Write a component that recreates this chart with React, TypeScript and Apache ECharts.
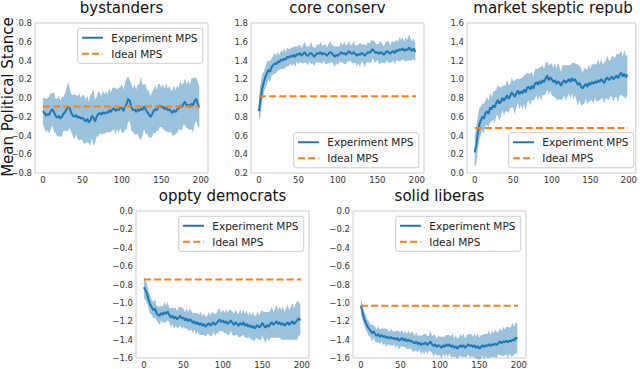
import React, { useEffect, useRef } from "react";
import * as echarts from "echarts";

// x positions of the sampled time steps (every 2nd step 0..198)
const STEPS = Array.from({ length: 100 }, (_, i) => i * 2);
const X_TICKS = [0, 50, 100, 150, 200];

const TITLES = ["bystanders", "core conserv", "market skeptic repub", "oppty democrats", "solid liberas"];
const LEGEND_LABELS = ["Experiment MPS", "Ideal MPS"];
const Y_LABEL = "Mean Political Stance";

const BYSTANDERS_MEAN = [
  -0.14, -0.16, -0.19, -0.17, -0.18, -0.14, -0.12, -0.15, -0.19, -0.21,
  -0.19, -0.22, -0.2, -0.17, -0.15, -0.12, -0.09, -0.11, -0.16, -0.19,
  -0.2, -0.18, -0.21, -0.2, -0.22, -0.21, -0.23, -0.25, -0.22, -0.26,
  -0.24, -0.19, -0.21, -0.25, -0.2, -0.17, -0.16, -0.18, -0.15, -0.17,
  -0.15, -0.16, -0.13, -0.15, -0.12, -0.11, -0.14, -0.12, -0.13, -0.1,
  -0.11, -0.14, -0.09, -0.06, -0.01, -0.03, -0.1, -0.13, -0.12, -0.15,
  -0.12, -0.14, -0.11, -0.13, -0.09, -0.12, -0.15, -0.17, -0.2, -0.18,
  -0.14, -0.12, -0.13, -0.1, -0.08, -0.1, -0.09, -0.12, -0.1, -0.13,
  -0.12, -0.14, -0.16, -0.13, -0.15, -0.12, -0.11, -0.08, -0.1, -0.06,
  -0.04, -0.09, -0.07, -0.1, -0.06, -0.08, -0.03, -0.01, -0.06, -0.1,
];
const BYSTANDERS_SPREAD = [
  0.14, 0.16, 0.18, 0.17, 0.2, 0.19, 0.17, 0.21, 0.18, 0.2,
  0.22, 0.19, 0.21, 0.18, 0.2, 0.23, 0.26, 0.21, 0.2, 0.22,
  0.24, 0.21, 0.23, 0.25, 0.22, 0.24, 0.26, 0.23, 0.25, 0.22,
  0.27, 0.24, 0.3, 0.23, 0.21, 0.24, 0.22, 0.2, 0.23, 0.21,
  0.22, 0.2, 0.24, 0.21, 0.23, 0.22, 0.25, 0.21, 0.24, 0.22,
  0.26, 0.23, 0.25, 0.27, 0.24, 0.22, 0.25, 0.23, 0.27, 0.24,
  0.26, 0.29, 0.34, 0.27, 0.24, 0.26, 0.23, 0.25, 0.22, 0.24,
  0.23, 0.26, 0.22, 0.25, 0.23, 0.21, 0.24, 0.22, 0.26, 0.23,
  0.25, 0.22, 0.24, 0.27, 0.23, 0.25, 0.22, 0.26, 0.24, 0.22,
  0.25, 0.23, 0.26, 0.24, 0.27, 0.29, 0.25, 0.23, 0.24, 0.22,
];

const CORE_MEAN = [
  0.86, 0.98, 1.1, 1.16, 1.22, 1.26, 1.3, 1.28, 1.33, 1.35,
  1.37, 1.36, 1.39, 1.38, 1.41, 1.4, 1.42, 1.41, 1.44, 1.43,
  1.45, 1.44, 1.46, 1.44, 1.47, 1.46, 1.48, 1.45, 1.47, 1.49,
  1.46, 1.45, 1.47, 1.48, 1.46, 1.44, 1.46, 1.48, 1.47, 1.49,
  1.46, 1.48, 1.47, 1.45, 1.47, 1.49, 1.48, 1.46, 1.44, 1.46,
  1.45, 1.47, 1.49, 1.47, 1.48, 1.46, 1.48, 1.5, 1.48, 1.47,
  1.49, 1.47, 1.45, 1.47, 1.46, 1.48, 1.47, 1.45, 1.47, 1.49,
  1.48, 1.5, 1.52, 1.5, 1.48, 1.49, 1.47, 1.49, 1.48, 1.46,
  1.48, 1.5, 1.49, 1.47, 1.49, 1.5, 1.48, 1.51, 1.5, 1.52,
  1.51, 1.53, 1.5, 1.52, 1.51, 1.54, 1.52, 1.5, 1.53, 1.49,
];
const CORE_SPREAD = [
  0.1, 0.17, 0.14, 0.12, 0.11, 0.12, 0.1, 0.11, 0.09, 0.1,
  0.11, 0.09, 0.1, 0.08, 0.1, 0.09, 0.11, 0.08, 0.1, 0.09,
  0.08, 0.1, 0.09, 0.11, 0.08, 0.1, 0.09, 0.08, 0.1, 0.11,
  0.09, 0.1, 0.08, 0.12, 0.09, 0.1, 0.08, 0.1, 0.09, 0.11,
  0.1, 0.08, 0.11, 0.09, 0.1, 0.12, 0.09, 0.1, 0.11, 0.09,
  0.1, 0.08, 0.11, 0.09, 0.12, 0.1, 0.09, 0.11, 0.08, 0.1,
  0.12, 0.09, 0.11, 0.1, 0.13, 0.09, 0.1, 0.12, 0.09, 0.11,
  0.1, 0.12, 0.09, 0.11, 0.1, 0.08, 0.11, 0.12, 0.1, 0.09,
  0.11, 0.1, 0.12, 0.09, 0.11, 0.1, 0.12, 0.11, 0.1, 0.13,
  0.11, 0.12, 0.1, 0.13, 0.11, 0.14, 0.12, 0.1, 0.11, 0.1,
];

const MARKET_MEAN = [
  0.22, 0.3, 0.42, 0.52, 0.56, 0.6, 0.58, 0.64, 0.66, 0.63,
  0.7, 0.68, 0.72, 0.7, 0.75, 0.78, 0.74, 0.76, 0.8, 0.77,
  0.8, 0.83, 0.79, 0.82, 0.86, 0.84, 0.81, 0.85, 0.88, 0.84,
  0.87, 0.85, 0.89, 0.86, 0.91, 0.92, 0.89, 0.93, 0.9, 0.95,
  0.97, 0.94, 0.98, 0.95, 0.99, 0.97, 1.01, 1.04, 0.99, 1.02,
  1.0, 0.97, 0.99, 0.95, 0.98, 0.96, 0.93, 0.97, 0.99, 0.96,
  0.98, 1.0, 0.97, 1.01, 0.98, 1.0, 0.97, 0.94, 0.96, 0.92,
  0.9, 0.93, 0.95, 0.92, 0.96, 0.94, 0.97, 0.95, 0.98, 0.96,
  0.99, 0.97, 1.0, 0.98, 0.96, 1.0, 1.02, 0.99, 1.01, 1.03,
  1.0, 1.02, 1.04, 1.01, 1.05, 1.07, 1.03, 1.06, 1.02, 1.05,
];
const MARKET_SPREAD = [
  0.16, 0.2, 0.18, 0.17, 0.15, 0.14, 0.16, 0.13, 0.15, 0.14,
  0.16, 0.13, 0.15, 0.17, 0.14, 0.16, 0.18, 0.15, 0.13, 0.16,
  0.14, 0.17, 0.15, 0.13, 0.16, 0.14, 0.18, 0.15, 0.13, 0.16,
  0.14, 0.17, 0.15, 0.19, 0.16, 0.14, 0.17, 0.15, 0.13, 0.16,
  0.14, 0.17, 0.15, 0.18, 0.16, 0.14, 0.17, 0.15, 0.16, 0.14,
  0.17, 0.15, 0.18, 0.16, 0.2, 0.17, 0.15, 0.18, 0.16, 0.19,
  0.17, 0.15, 0.18, 0.16, 0.2, 0.17, 0.19, 0.22, 0.18, 0.2,
  0.17, 0.19, 0.16, 0.18, 0.2, 0.17, 0.19, 0.21, 0.18, 0.2,
  0.22, 0.19, 0.21, 0.18, 0.22, 0.2, 0.23, 0.21, 0.19, 0.22,
  0.24, 0.21, 0.23, 0.26, 0.22, 0.24, 0.21, 0.25, 0.23, 0.21,
];

const OPPTY_MEAN = [
  -0.83, -0.86, -0.9, -0.97, -1.02, -1.05, -1.08, -1.06, -1.11, -1.13,
  -1.14, -1.11, -1.13, -1.1, -1.12, -1.09, -1.13, -1.16, -1.14, -1.17,
  -1.15, -1.18, -1.16, -1.14, -1.17, -1.16, -1.19, -1.17, -1.2, -1.18,
  -1.19, -1.22, -1.2, -1.23, -1.21, -1.24, -1.22, -1.25, -1.23, -1.26,
  -1.24, -1.22, -1.25, -1.23, -1.21, -1.24, -1.22, -1.2, -1.18, -1.21,
  -1.19, -1.22, -1.2, -1.23, -1.21, -1.19, -1.22, -1.24, -1.21, -1.23,
  -1.25, -1.22, -1.24, -1.21, -1.25, -1.23, -1.26, -1.24, -1.27, -1.25,
  -1.28, -1.26, -1.24, -1.27, -1.25, -1.22, -1.25, -1.27, -1.24, -1.26,
  -1.23, -1.21, -1.24, -1.22, -1.2, -1.23, -1.21, -1.24, -1.22, -1.25,
  -1.23, -1.21, -1.24, -1.22, -1.2, -1.23, -1.21, -1.19, -1.17, -1.19,
];
const OPPTY_SPREAD = [
  0.12, 0.11, 0.1, 0.09, 0.1, 0.08, 0.09, 0.1, 0.08, 0.09,
  0.1, 0.08, 0.09, 0.11, 0.09, 0.1, 0.08, 0.1, 0.09, 0.11,
  0.1, 0.09, 0.11, 0.1, 0.12, 0.1, 0.09, 0.11, 0.1, 0.12,
  0.1, 0.11, 0.09, 0.12, 0.1, 0.11, 0.13, 0.1, 0.12, 0.11,
  0.1, 0.12, 0.11, 0.13, 0.1, 0.12, 0.11, 0.13, 0.12, 0.1,
  0.12, 0.11, 0.13, 0.12, 0.14, 0.11, 0.13, 0.12, 0.14, 0.12,
  0.13, 0.15, 0.12, 0.14, 0.13, 0.15, 0.12, 0.14, 0.13, 0.15,
  0.14, 0.12, 0.15, 0.13, 0.16, 0.14, 0.15, 0.17, 0.14, 0.16,
  0.15, 0.17, 0.14, 0.16, 0.18, 0.15, 0.17, 0.16, 0.18, 0.15,
  0.17, 0.19, 0.16, 0.18, 0.2, 0.17, 0.19, 0.21, 0.18, 0.17,
];

const SOLID_MEAN = [
  -1.03, -1.1, -1.17, -1.21, -1.25, -1.28, -1.3, -1.33, -1.31, -1.34,
  -1.36, -1.34, -1.37, -1.35, -1.37, -1.36, -1.38, -1.37, -1.39, -1.37,
  -1.39, -1.38, -1.4, -1.38, -1.41, -1.4, -1.38, -1.41, -1.39, -1.42,
  -1.4, -1.42, -1.41, -1.43, -1.44, -1.42, -1.45, -1.43, -1.46, -1.44,
  -1.45, -1.43, -1.46, -1.44, -1.42, -1.45, -1.47, -1.45, -1.48, -1.46,
  -1.47, -1.49, -1.46, -1.48, -1.45, -1.47, -1.45, -1.48, -1.46, -1.49,
  -1.47, -1.5, -1.48, -1.46, -1.48, -1.46, -1.49, -1.47, -1.45, -1.47,
  -1.46, -1.48, -1.46, -1.49, -1.47, -1.5, -1.48, -1.46, -1.48, -1.46,
  -1.47, -1.45, -1.47, -1.45, -1.46, -1.44, -1.46, -1.44, -1.42, -1.44,
  -1.42, -1.43, -1.41, -1.43, -1.41, -1.42, -1.4, -1.41, -1.38, -1.39,
];
const SOLID_SPREAD = [
  0.09, 0.08, 0.07, 0.08, 0.07, 0.08, 0.07, 0.09, 0.07, 0.08,
  0.07, 0.09, 0.08, 0.07, 0.09, 0.08, 0.1, 0.08, 0.07, 0.09,
  0.08, 0.07, 0.09, 0.08, 0.1, 0.08, 0.09, 0.07, 0.09, 0.08,
  0.1, 0.08, 0.09, 0.11, 0.08, 0.1, 0.09, 0.08, 0.1, 0.09,
  0.11, 0.09, 0.1, 0.08, 0.11, 0.09, 0.12, 0.1, 0.09, 0.11,
  0.1, 0.12, 0.09, 0.11, 0.1, 0.12, 0.1, 0.11, 0.13, 0.1,
  0.12, 0.11, 0.1, 0.12, 0.11, 0.13, 0.1, 0.12, 0.11, 0.13,
  0.12, 0.11, 0.13, 0.12, 0.14, 0.12, 0.13, 0.11, 0.14, 0.12,
  0.13, 0.15, 0.12, 0.14, 0.13, 0.15, 0.14, 0.12, 0.15, 0.13,
  0.16, 0.14, 0.15, 0.17, 0.14, 0.16, 0.18, 0.15, 0.17, 0.16,
];

const MEANS = [BYSTANDERS_MEAN, CORE_MEAN, MARKET_MEAN, OPPTY_MEAN, SOLID_MEAN];
const SPREADS = [BYSTANDERS_SPREAD, CORE_SPREAD, MARKET_SPREAD, OPPTY_SPREAD, SOLID_SPREAD];
const IDEAL = [-0.09, 1.02, 0.48, -0.745, -1.03];
const IDEAL_X = [0, 199];
const Y_MIN = [-0.8, 0.2, 0.0, -1.6, -1.6];
const Y_MAX = [0.8, 1.8, 1.6, 0.0, 0.0];

// layout (pixels)
const GRIDS = [
  { left: 35, top: 23, width: 173, height: 150 },
  { left: 251, top: 23, width: 173, height: 150 },
  { left: 467, top: 23, width: 172, height: 150 },
  { left: 136, top: 211, width: 173, height: 151 },
  { left: 353, top: 211, width: 173, height: 151 },
];
const LEGEND_LOWER = [false, true, true, false, false];

const FONT = "DejaVu Sans";
const BLUE = "#1f77b4";
const ORANGE = "#ff7f0e";
const BAND = "rgba(31,119,180,0.45)";

const fmtY = (v: number) => {
  const r = Math.round(v * 10) / 10;
  const s = Math.abs(r) < 1e-9 ? "0.0" : r.toFixed(1);
  return s.replace("-", "\u2212");
};
const fmtX = (v: number) => {
  const r = Math.round(v);
  return Math.abs(v - r) < 1e-6 && X_TICKS.includes(r) ? String(r) : "";
};

export default function App() {
  const ref = useRef<HTMLDivElement>(null);
  useEffect(() => {
    if (!ref.current) return;
    const chart = echarts.init(ref.current, undefined, { renderer: "svg" });

    const grid = GRIDS.map((g) => ({
      ...g,
      show: true,
      borderColor: "#cccccc",
      borderWidth: 1,
      backgroundColor: "transparent",
    }));

    const xAxis = GRIDS.map((_, k) => ({
      type: "value",
      gridIndex: k,
      min: -10,
      max: 209,
      interval: 10,
      axisLine: { show: false },
      axisTick: { show: false },
      splitLine: { show: false },
      axisLabel: {
        formatter: fmtX,
        fontSize: 8.5,
        fontFamily: FONT,
        color: "#333",
        margin: 2,
        showMinLabel: true,
        showMaxLabel: true,
      },
    }));

    const yAxis = GRIDS.map((_, k) => ({
      type: "value",
      gridIndex: k,
      min: Y_MIN[k],
      max: Y_MAX[k],
      interval: 0.2,
      axisLine: { show: false },
      axisTick: { show: false },
      splitLine: { show: false },
      axisLabel: {
        formatter: fmtY,
        fontSize: 8.5,
        fontFamily: FONT,
        color: "#333",
        margin: 3,
      },
    }));

    const series: any[] = [];
    MEANS.forEach((mean, k) => {
      const spread = SPREADS[k];
      const bandData = STEPS.map((x, i) => [x, mean[i] - spread[i], mean[i] + spread[i]]);
      series.push({
        type: "custom",
        xAxisIndex: k,
        yAxisIndex: k,
        silent: true,
        z: 1,
        encode: { x: 0, y: [1, 2] },
        data: bandData,
        renderItem: (params: any, api: any) => {
          if (params.dataIndex !== 0) return null;
          const lowerPts = bandData.map((d) => api.coord([d[0], d[1]]));
          const upperPts = bandData.map((d) => api.coord([d[0], d[2]])).reverse();
          return {
            type: "polygon",
            shape: { points: lowerPts.concat(upperPts) },
            style: { fill: BAND, stroke: null },
          };
        },
      });
      series.push({
        name: LEGEND_LABELS[0],
        type: "line",
        xAxisIndex: k,
        yAxisIndex: k,
        symbol: "none",
        lineStyle: { color: BLUE, width: 2 },
        data: STEPS.map((x, i) => [x, mean[i]]),
        z: 3,
      });
      series.push({
        name: LEGEND_LABELS[1],
        type: "line",
        xAxisIndex: k,
        yAxisIndex: k,
        symbol: "none",
        lineStyle: { color: ORANGE, width: 2, type: [7, 3.2] },
        data: IDEAL_X.map((x) => [x, IDEAL[k]]),
        z: 4,
      });
    });

    const graphics: any[] = [];
    GRIDS.forEach((g, k) => {
      const cx = g.left + g.width / 2;
      graphics.push({
        type: "text",
        x: cx,
        y: g.top - 15,
        z: 100,
        style: {
          text: TITLES[k],
          fontSize: 15,
          fontFamily: FONT,
          fill: "#111",
          align: "center",
          verticalAlign: "middle",
        },
      });
      const bw = 125;
      const bh = 35;
      const bx = g.left + g.width - 5.25 - bw;
      const by = LEGEND_LOWER[k] ? g.top + g.height - 5.25 - bh : g.top + 5.25;
      graphics.push({
        type: "rect",
        z: 100,
        shape: { x: bx, y: by, width: bw, height: bh, r: 2 },
        style: { fill: "rgba(255,255,255,0.8)", stroke: "#cccccc", lineWidth: 1 },
      });
      [0, 1].forEach((j) => {
        const ly = by + 9.5 + j * 16;
        graphics.push({
          type: "line",
          z: 101,
          shape: { x1: bx + 4.2, y1: ly, x2: bx + 25.2, y2: ly },
          style: {
            stroke: j === 0 ? BLUE : ORANGE,
            lineWidth: 2,
            lineDash: j === 0 ? null : [7, 3.2],
          },
        });
        graphics.push({
          type: "text",
          z: 101,
          x: bx + 33.6,
          y: ly,
          style: {
            text: LEGEND_LABELS[j],
            fontSize: 10.5,
            fontFamily: FONT,
            fill: "#222",
            align: "left",
            verticalAlign: "middle",
          },
        });
      });
    });
    graphics.push({
      type: "text",
      x: 8,
      y: 97,
      rotation: Math.PI / 2,
      z: 100,
      style: {
        text: Y_LABEL,
        fontSize: 15,
        fontFamily: FONT,
        fill: "#111",
        align: "center",
        verticalAlign: "middle",
      },
    });

    chart.setOption({
      animation: false,
      backgroundColor: "#ffffff",
      grid,
      xAxis,
      yAxis,
      series,
      graphic: { elements: graphics },
    });
    return () => chart.dispose();
  }, []);

  return (
    <div
      ref={ref}
      style={{ position: "fixed", left: 0, top: 0, width: 640, height: 369 }}
    />
  );
}
